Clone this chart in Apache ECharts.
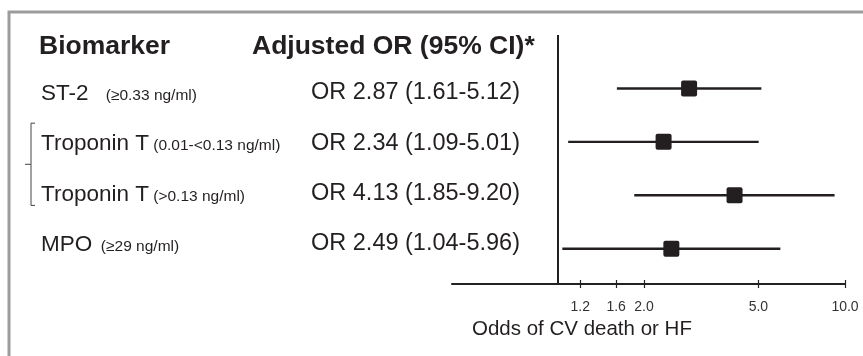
<!DOCTYPE html>
<html>
<head>
<meta charset="utf-8">
<script src="https://cdn.jsdelivr.net/npm/echarts@6/dist/echarts.min.js"></script>
<style>
html,body{margin:0;padding:0;background:#fff;}
#chart{width:863px;height:356px;}
</style>
</head>
<body>
<div id="chart"></div>
<script>
// ---- data ----
const biomarkers = ['ST-2', 'Troponin T', 'Troponin T', 'MPO'];
const thresholds = ['(≥0.33 ng/ml)', '(0.01-<0.13 ng/ml)', '(>0.13 ng/ml)', '(≥29 ng/ml)'];
const orValues = [2.87, 2.34, 4.13, 2.49];
const ciLow = [1.61, 1.09, 1.85, 1.04];
const ciHigh = [5.12, 5.01, 9.20, 5.96];
const xTicks = [1.2, 1.6, 2.0, 5.0, 10.0];
const bracketRows = [1, 2];
const headerLeft = 'Biomarker';
const headerRight = 'Adjusted OR (95% CI)*';
const xAxisTitle = 'Odds of CV death or HF';

// ---- style ----
const FONT = 'Liberation Sans, Arial, Helvetica, sans-serif';
const INK = '#231f20';
const nameGap = ['    ', ' ', ' ', '  '];

const ciData = orValues.map((v, i) => [ciLow[i], ciHigh[i], v, i]);
const textData = biomarkers.map((b, i) => [1, i]);

const chart = echarts.init(document.getElementById('chart'), null, {renderer: 'canvas'});

const option = {
  backgroundColor: '#ffffff',
  animation: false,
  title: [
    {text: headerLeft, left: 39, top: 33, padding: 0, textStyle: {fontFamily: FONT, fontSize: 26.5, fontWeight: 'bold', color: INK}},
    {text: headerRight, left: 252, top: 33, padding: 0, textStyle: {fontFamily: FONT, fontSize: 26.5, fontWeight: 'bold', color: INK}},
    {text: xAxisTitle, left: 472, top: 319, padding: 0, textStyle: {fontFamily: FONT, fontSize: 20.5, fontWeight: 'normal', color: INK}}
  ],
  graphic: [
    {type: 'polyline', shape: {points: [[9, 356], [9, 12], [863, 12]]}, style: {stroke: '#9c9c9c', lineWidth: 3, fill: null}, silent: true}
  ],
  grid: {left: 452, right: 18, top: 35, bottom: 72},
  xAxis: [
    {
      type: 'log', min: 0.43, max: 10,
      axisLine: {show: true, onZero: false, lineStyle: {color: '#222', width: 2}},
      axisTick: {show: true, length: 4, lineStyle: {color: '#222', width: 1.2}, customValues: xTicks},
      axisLabel: {show: true, customValues: xTicks, margin: 16, fontFamily: FONT, fontSize: 14, color: '#333',
        formatter: v => Number(v).toFixed(1)},
      splitLine: {show: false}, minorTick: {show: false}
    },
    {
      type: 'log', min: 0.43, max: 10, position: 'bottom',
      axisLine: {show: false, onZero: false},
      axisTick: {show: true, inside: true, length: 4, lineStyle: {color: '#222', width: 1.2}, customValues: xTicks},
      axisLabel: {show: false},
      splitLine: {show: false}
    }
  ],
  yAxis: [
    {type: 'value', inverse: true, min: -1, max: 3.66, show: false, splitLine: {show: false}},
    {type: 'value', inverse: true, min: -1.173, max: 3.783, show: false, splitLine: {show: false}}
  ],
  series: [
    {
      type: 'custom', name: 'ci', silent: true,
      data: ciData,
      encode: {x: [0, 1, 2], y: 3},
      renderItem: function (params, api) {
        const row = api.value(3);
        const lo = api.coord([api.value(0), row]);
        const hi = api.coord([api.value(1), row]);
        const mid = api.coord([api.value(2), row]);
        return {
          type: 'group',
          children: [
            {type: 'line', shape: {x1: lo[0], y1: lo[1], x2: hi[0], y2: hi[1]}, style: {stroke: INK, lineWidth: 2.4}},
            {type: 'rect', shape: {x: mid[0] - 8, y: mid[1] - 8, width: 16, height: 16, r: 2}, style: {fill: INK}}
          ]
        };
      },
      markLine: {
        silent: true, symbol: 'none', animation: false,
        label: {show: false},
        lineStyle: {color: INK, width: 2, type: 'solid'},
        data: [{xAxis: 1}]
      },
      z: 3
    },
    {
      type: 'custom', name: 'labels', silent: true, clip: false,
      yAxisIndex: 1,
      data: textData,
      encode: {x: 0, y: 1},
      renderItem: function (params, api) {
        const i = params.dataIndex;
        const y = api.coord([1, api.value(1)])[1];
        const orText = 'OR ' + orValues[i].toFixed(2) + ' (' + ciLow[i].toFixed(2) + '-' + ciHigh[i].toFixed(2) + ')';
        return {
          type: 'group',
          children: [
            {type: 'text', x: 41, y: y, style: {
              text: '{n|' + biomarkers[i] + '}' + nameGap[i] + '{s|' + thresholds[i] + '}',
              rich: {
                n: {fontFamily: FONT, fontSize: 22.5, fill: INK, verticalAlign: 'middle'},
                s: {fontFamily: FONT, fontSize: 15.5, fill: INK, verticalAlign: 'middle', padding: [4, 0, 0, 0]}
              },
              fontFamily: FONT, fontSize: 15.5, fill: INK,
              verticalAlign: 'middle', align: 'left'
            }},
            {type: 'text', x: 311, y: y - 1, style: {
              text: orText, fontFamily: FONT, fontSize: 23.5, fill: INK, verticalAlign: 'middle', align: 'left'
            }}
          ]
        };
      }
    },
    {
      type: 'custom', name: 'bracket', silent: true, clip: false,
      yAxisIndex: 1,
      data: [[1, bracketRows[0], bracketRows[1]]],
      encode: {x: 0, y: [1, 2]},
      renderItem: function (params, api) {
        const y1 = api.coord([1, api.value(1)])[1] - 21;
        const y2 = api.coord([1, api.value(2)])[1] + 11;
        const ym = (y1 + y2) / 2;
        return {
          type: 'group',
          children: [
            {type: 'polyline', shape: {points: [[35, y1], [31, y1], [31, y2], [35, y2]]}, style: {stroke: '#444', lineWidth: 1, fill: null}},
            {type: 'line', shape: {x1: 25, y1: ym, x2: 31, y2: ym}, style: {stroke: '#444', lineWidth: 1}}
          ]
        };
      }
    }
  ]
};
chart.setOption(option);
</script>
</body>
</html>
